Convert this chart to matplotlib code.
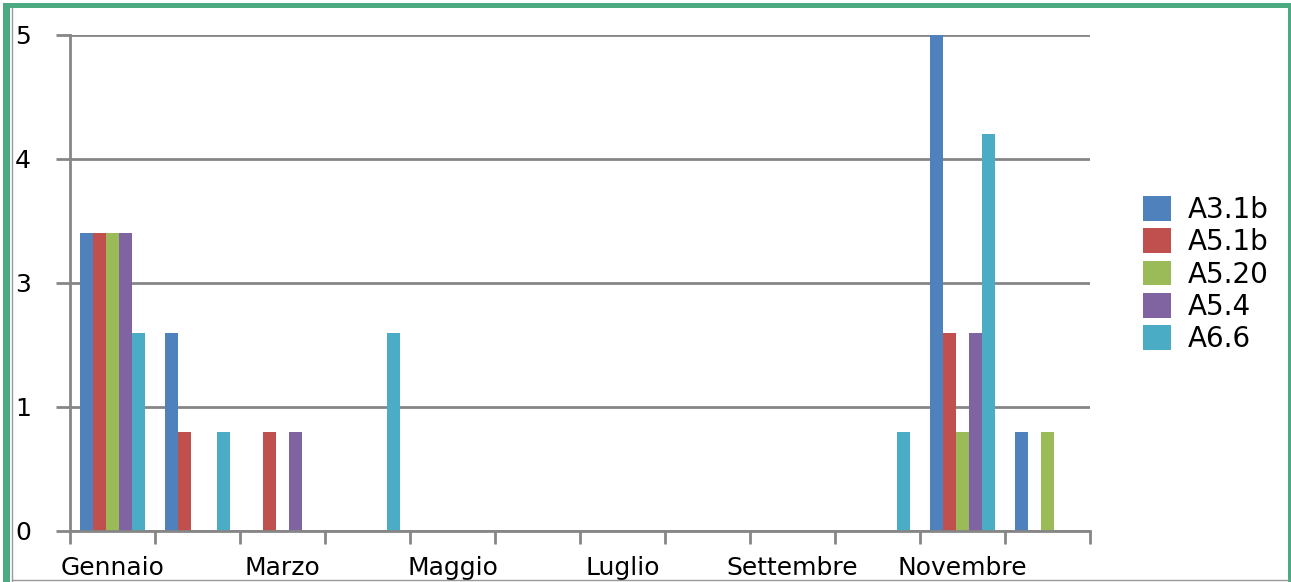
import numpy as np
import matplotlib.pyplot as plt
from matplotlib.patches import Rectangle
from matplotlib.lines import Line2D

months = ['Gennaio', 'Febbraio', 'Marzo', 'Aprile', 'Maggio', 'Giugno',
          'Luglio', 'Agosto', 'Settembre', 'Ottobre', 'Novembre', 'Dicembre']
series = ['A3.1b', 'A5.1b', 'A5.20', 'A5.4', 'A6.6']
colors = ['#4F81BD', '#C0504D', '#9BBB59', '#8064A2', '#4BACC6']

a31b = [3, 2, 0, 0, 0, 0, 0, 0, 0, 0, 5, 1]
a51b = [3, 1, 1, 0, 0, 0, 0, 0, 0, 0, 2, 0]
a520 = [3, 0, 0, 0, 0, 0, 0, 0, 0, 0, 1, 1]
a54 = [3, 0, 1, 0, 0, 0, 0, 0, 0, 0, 2, 0]
a66 = [2, 1, 0, 2, 0, 0, 0, 0, 0, 1, 4, 0]
values = [a31b, a51b, a520, a54, a66]

y_ticks = [0, 1.25, 2.5, 3.75, 5]
y_labels = ['0', '1', '3', '4', '5']

W, H = 1291, 582
fig = plt.figure(figsize=(W / 100, H / 100), dpi=100)
ax = fig.add_axes([70 / W, 1 - 531 / H, 1020 / W, 496 / H])

x = np.arange(len(months)) + 0.5
w = 1 / 6.5
for j, (name, vals, c) in enumerate(zip(series, values, colors)):
    ax.bar(x + (j - 2) * w, vals, width=w, color=c, label=name, zorder=3)

grid_c = '#868686'
ax.set_xlim(0, 12)
ax.set_ylim(0, 5)
ax.set_yticks(y_ticks)
ax.set_yticklabels(y_labels, fontsize=18)
ax.tick_params(axis='y', length=10, width=2, color=grid_c, pad=18)
ax.set_xticks(np.arange(13))
ax.set_xticklabels([])
ax.set_xticks(x[::2], minor=True)
ax.set_xticklabels(months[::2], minor=True, fontsize=18)
ax.tick_params(axis='x', which='major', length=9, width=2, color=grid_c)
ax.tick_params(axis='x', which='minor', length=0, pad=18)
ax.grid(axis='y', color=grid_c, lw=2, zorder=0)
for s in ['top', 'right']:
    ax.spines[s].set_visible(False)
for s in ['left', 'bottom']:
    ax.spines[s].set_color(grid_c)
    ax.spines[s].set_linewidth(2)
    ax.spines[s].set_zorder(4)

leg = ax.legend(loc='center left', bbox_to_anchor=(1062 / 1020, 0.517),
                frameon=False, fontsize=20, handlelength=1.0, handleheight=1.0,
                labelspacing=0.15, handletextpad=0.6, borderaxespad=0)

# frame
green = '#4BAA82'
fig.add_artist(Rectangle((3 / W, 0), 7 / W, 1 - 3 / H, transform=fig.transFigure,
                         color=green, lw=0))
fig.add_artist(Rectangle((3 / W, 1 - 8 / H), 1 - 3 / W, 5 / H, transform=fig.transFigure,
                         color=green, lw=0))
fig.add_artist(Rectangle((1288 / W, 0), 3 / W, 1 - 3 / H, transform=fig.transFigure,
                         color=green, lw=0))
fig.add_artist(Line2D([11.5 / W] * 2, [0, 1 - 8 / H], color='#999999', lw=1))
fig.add_artist(Line2D([11.5 / W, 1288 / W], [2 / H] * 2, color='#999999', lw=1))

fig.savefig('out.png', dpi=100)
